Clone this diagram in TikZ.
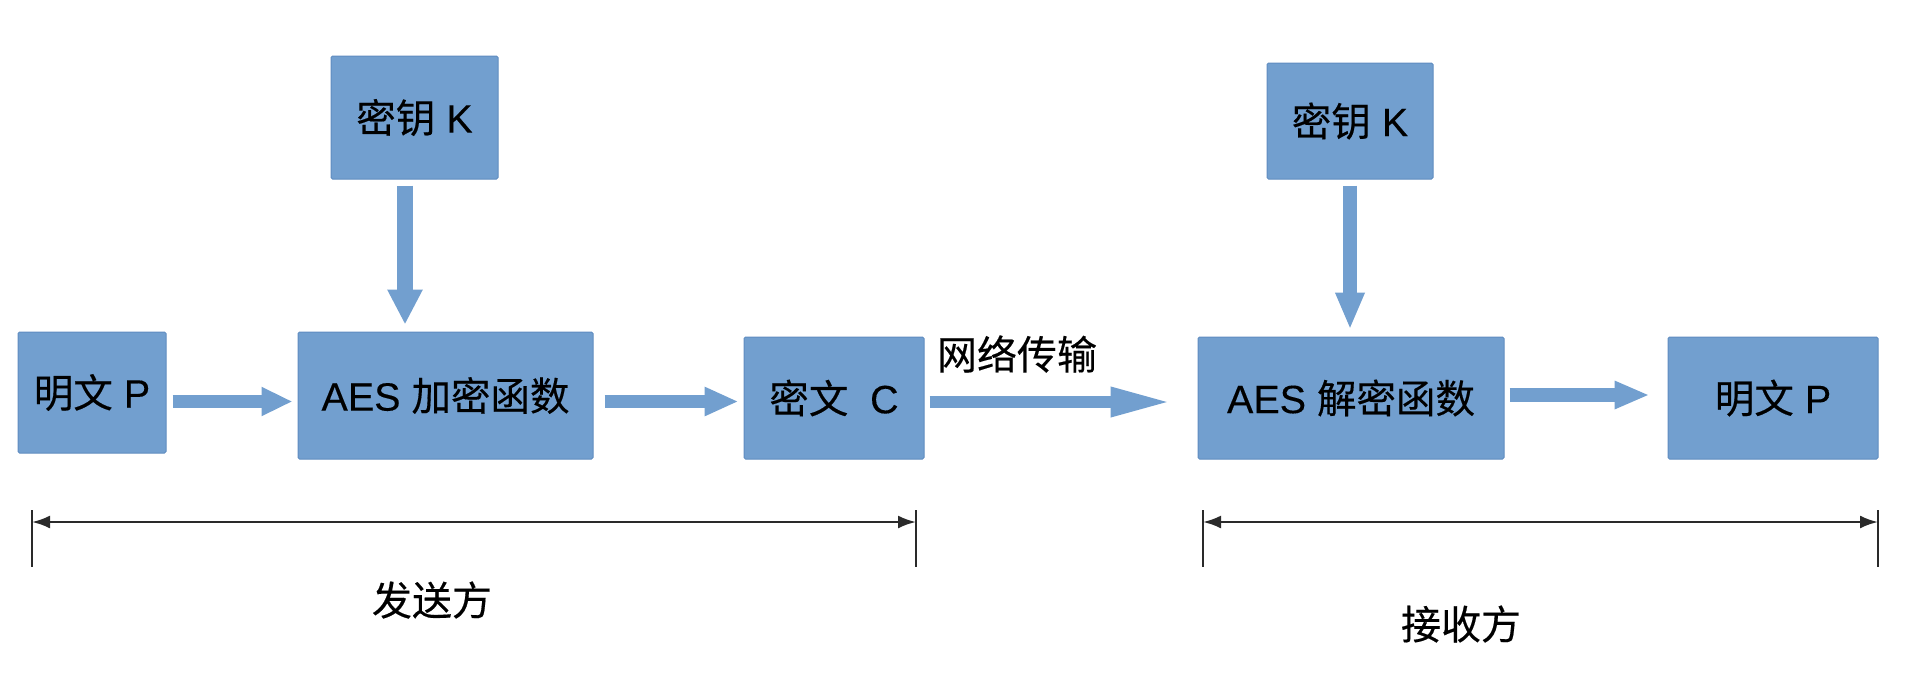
\documentclass[tikz,border=0pt]{standalone}
\usepackage{fontspec}
\setmainfont{Liberation Sans}[FakeBold=0.25]
\newfontfamily\cjk{Noto Sans CJK SC}[FakeBold=0.35]
\usetikzlibrary{arrows.meta}
\definecolor{boxfill}{HTML}{729FCF}
\definecolor{boxline}{HTML}{5F8CC0}
\definecolor{dimline}{HTML}{2A2A2A}
\begin{document}
\begin{tikzpicture}[x=1pt,y=-1pt,
  blk/.style={draw=boxline, line width=1pt, fill=boxfill, rounded corners=1.5pt,
    inner sep=0pt, font=\fontsize{39.5}{42}\selectfont, text=black},
  lbl/.style={inner sep=0pt, font=\fontsize{40}{42}\selectfont, text=black},
  barrow/.style={draw=boxfill, line width=#1},
  dimarrow/.style={draw=dimline, line width=2.4pt, {Latex[length=18pt,width=13pt]}-{Latex[length=18pt,width=13pt]}},
  dimtick/.style={draw=dimline, line width=1.5pt}]
\useasboundingbox (0,0) rectangle (1908,694);
% boxes
\node[blk, minimum width=167pt, minimum height=123pt] (kl) at (414.5,117.5) {{\cjk 密钥} K};
\node[blk, minimum width=148pt, minimum height=121pt] (pl) at (92,392.5) {{\cjk 明文} P};
\node[blk, minimum width=295pt, minimum height=127pt] (enc) at (445.5,395.5) {AES {\cjk 加密函数}};
\node[blk, minimum width=180pt, minimum height=122pt] (c) at (834,398) {{\cjk 密文}\hspace{0.55em}C};
\node[blk, minimum width=166pt, minimum height=116pt] (kr) at (1350,121) {{\cjk 密钥} K};
\node[blk, minimum width=306pt, minimum height=122pt] (dec) at (1351,398) {AES {\cjk 解密函数}};
\node[blk, minimum width=210pt, minimum height=122pt] (pr) at (1773,398) {{\cjk 明文} P};
% labels
\node[lbl] (net) at (1017,354) {\cjk 网络传输};
\node[lbl] (send) at (432,600) {\cjk 发送方};
\node[lbl] (recv) at (1461,624) {\cjk 接收方};
% helper coordinates
\coordinate (kxl) at (405,0);
\coordinate (kxr) at (1350,0);
\coordinate (ry1) at (0,401.5);
\coordinate (ry2) at (0,402);
\coordinate (ry3) at (0,395);
% block arrows
\draw[barrow=16pt, -{Triangle[length=35pt,width=33pt]}, shorten <=6pt, shorten >=7pt]
  (kl.south -| kxl) -- (enc.north -| kxl);
\draw[barrow=14pt, -{Triangle[length=37pt,width=27pt]}, shorten <=6pt, shorten >=7pt]
  (kr.south -| kxr) -- (dec.north -| kxr);
\draw[barrow=13pt, -{Triangle[length=31pt,width=27pt]}, shorten <=6pt, shorten >=5pt]
  (pl.east |- ry1) -- (enc.west |- ry1);
\draw[barrow=13pt, -{Triangle[length=34pt,width=27pt]}, shorten <=11pt, shorten >=5pt]
  (enc.east |- ry1) -- (c.west |- ry1);
\draw[barrow=12pt, -{Triangle[length=62pt,width=27pt]}, shorten <=5pt, shorten >=25pt]
  (c.east |- ry2) -- (dec.west |- ry2);
\draw[barrow=14pt, -{Triangle[length=35pt,width=26pt]}, shorten <=5pt, shorten >=18pt]
  (dec.east |- ry3) -- (pr.west |- ry3);
% dimension lines
\coordinate (d1t) at (32,510);
\coordinate (d1b) at (32,567);
\coordinate (d2t) at (916,510);
\coordinate (d2b) at (916,567);
\coordinate (d3t) at (1203,510);
\coordinate (d3b) at (1203,567);
\coordinate (d4t) at (1878,510);
\coordinate (d4b) at (1878,567);
\coordinate (dy) at (0,522);
\draw[dimtick] (d1t) -- (d1b);
\draw[dimtick] (d2t) -- (d2b);
\draw[dimtick] (d3t) -- (d3b);
\draw[dimtick] (d4t) -- (d4b);
\draw[dimarrow] (d1t |- dy) -- (d2t |- dy);
\draw[dimarrow] (d3t |- dy) -- (d4t |- dy);
\end{tikzpicture}
\end{document}
